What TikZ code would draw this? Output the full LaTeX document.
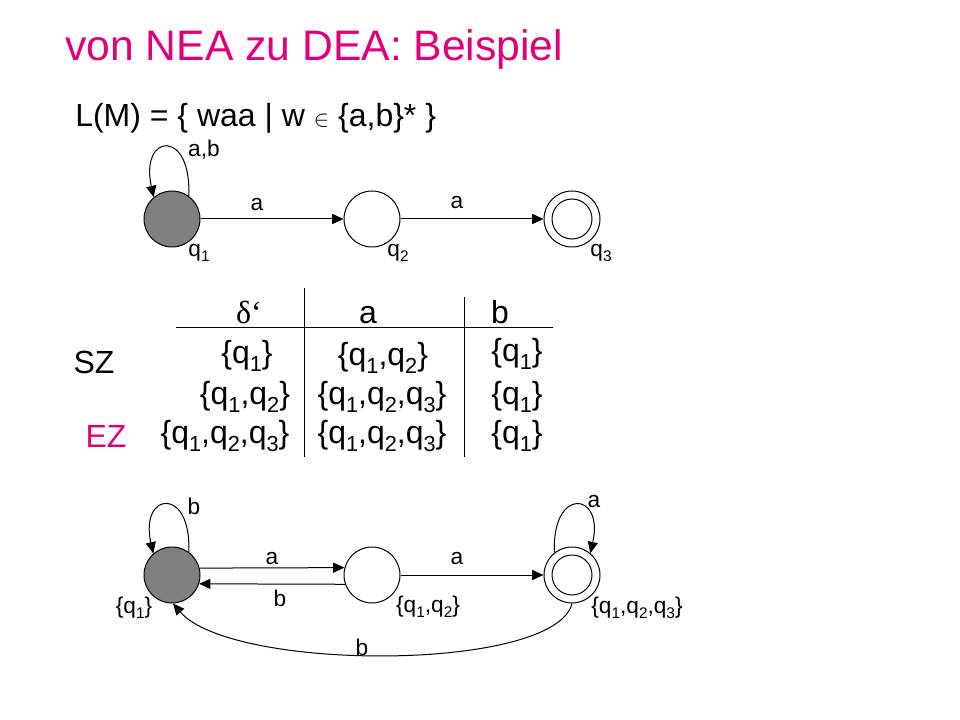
\documentclass[tikz,border=0pt]{standalone}
\usepackage{fontspec}
\setmainfont{Liberation Sans}
\newfontfamily\seriffont{Liberation Serif}
\usetikzlibrary{arrows.meta}
\definecolor{mag}{RGB}{226,0,122}
\definecolor{startgray}{RGB}{128,128,128}
\newcommand{\qq}[1]{q\raisebox{-0.24em}{\scalebox{0.68}{#1}}}
\begin{document}
\begin{tikzpicture}[x=0.75pt,y=-0.75pt,
  state/.style={circle,draw,line width=0.75pt,minimum size=42pt,inner sep=0pt},
  inner/.style={circle,draw,line width=0.75pt,minimum size=30pt,inner sep=0pt},
  start/.style={state,fill=startgray},
  arr/.style={-{Triangle[length=8.5pt,width=7.5pt]},line width=0.75pt},
  lbl/.style={inner sep=0pt,font=\fontsize{17}{20}\selectfont},
  tab/.style={inner sep=0pt,font=\fontsize{24}{28}\selectfont},
  rule/.style={line width=0.75pt}]
\useasboundingbox (0,0) rectangle (960,720);

% title
\node[anchor=base west,inner sep=0pt,text=mag,font=\fontsize{32}{38}\selectfont] (title) at (65,61) {von NEA zu DEA: Beispiel};
\node[anchor=base west,inner sep=0pt,font=\fontsize{24}{28}\selectfont] (lang) at (75,127) {L(M) = \{ waa | w {\fontsize{17}{20}\selectfont$\in$} \{a,b\}* \}};

% top automaton
\node[start] (q1) at (172,219) {};
\node[state] (q2) at (372,219) {};
\node[state] (q3) at (572,219) {};
\node[inner] (q3in) at (572,219) {};
\draw[arr] (q1) -- (q2);
\draw[arr] (q2) -- (q3);
\draw[arr] (q1.54) .. controls +(3,-68) and +(-14,-64) .. (q1.130);
\node[lbl] (la1) at (204,150) {a,b};
\node[lbl] (la2) at (257,205) {a};
\node[lbl] (la3) at (457,203) {a};
\node[lbl] (n1) at (199,253) {\qq{1}};
\node[lbl] (n2) at (398,253) {\qq{2}};
\node[lbl] (n3) at (601,253) {\qq{3}};

% table
\draw[rule] (176,327) -- (553,327);
\draw[rule] (304,288) -- (304,457);
\draw[rule] (464,297) -- (464,457);
\node[tab,anchor=base,font=\fontsize{24}{28}\seriffont] (hd) at (249,324) {δ‘};
\node[tab,anchor=base] (ha) at (368,324) {a};
\node[tab,anchor=base] (hb) at (500,324) {b};
\node[tab] (sz) at (94,362) {SZ};
\node[tab,text=mag] (ez) at (106,436) {EZ};
\node[tab] (r1a) at (247,356) {\{\qq{1}\}};
\node[tab] (r1b) at (383,358) {\{\qq{1},\qq{2}\}};
\node[tab] (r1c) at (517,354) {\{\qq{1}\}};
\node[tab] (r2a) at (245,397) {\{\qq{1},\qq{2}\}};
\node[tab] (r2b) at (382,397) {\{\qq{1},\qq{2},\qq{3}\}};
\node[tab] (r2c) at (517,397) {\{\qq{1}\}};
\node[tab] (r3a) at (225,436) {\{\qq{1},\qq{2},\qq{3}\}};
\node[tab] (r3b) at (382,436) {\{\qq{1},\qq{2},\qq{3}\}};
\node[tab] (r3c) at (517,436) {\{\qq{1}\}};

% bottom automaton
\node[start] (p1) at (172,575) {};
\node[state] (p2) at (372,575) {};
\node[state] (p3) at (572,575) {};
\node[inner] (p3in) at (572,575) {};
\draw[arr] (p1.14.5) -- (p2.165.5);
\draw[arr] (p2.-161.3) -- (p1.-18.7);
\draw[arr] (p2) -- (p3);
\draw[arr] (p1.54) .. controls +(3,-66) and +(-14,-62) .. (p1.131);
\draw[arr] (p3.128) .. controls +(-3,-66) and +(14,-62) .. (p3.50);
\draw[arr] (p3.-90) .. controls (555,672) and (232,672) .. (p1.-88);
\node[lbl] (lb1) at (194,506) {b};
\node[lbl] (lb2) at (272,559) {a};
\node[lbl] (lb3) at (280,598) {b};
\node[lbl] (lb4) at (457,559) {a};
\node[lbl] (lb5) at (594,502) {a};
\node[lbl] (lb6) at (362,647) {b};
\node[lbl] (m1) at (134,608) {\{\qq{1}\}};
\node[lbl] (m2) at (428,607) {\{\qq{1},\qq{2}\}};
\node[lbl] (m3) at (637,608) {\{\qq{1},\qq{2},\qq{3}\}};
\end{tikzpicture}
\end{document}
